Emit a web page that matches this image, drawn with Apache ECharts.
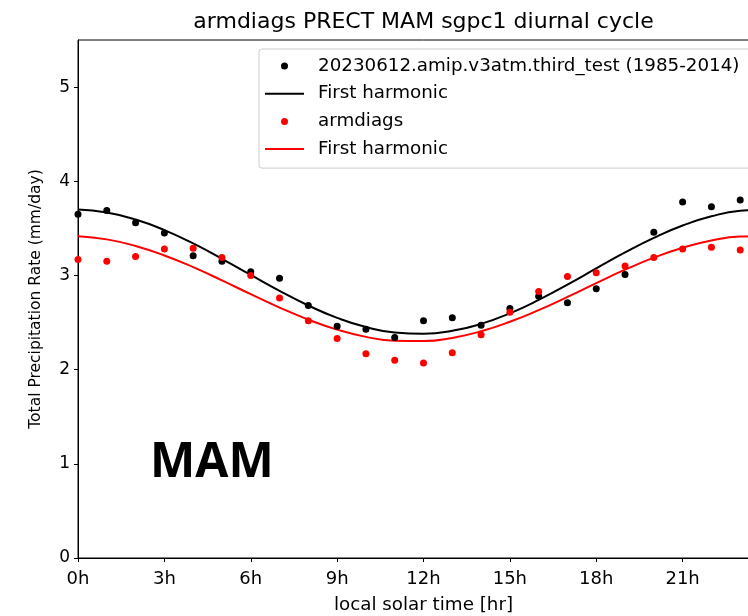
<!DOCTYPE html>
<html>
<head>
<meta charset="utf-8">
<script src="https://cdn.jsdelivr.net/npm/echarts@6/dist/echarts.min.js"></script>
<style>
html,body{margin:0;padding:0;overflow:hidden;background:#fff;}
#chart{width:847px;height:616px;}
</style>
</head>
<body>
<div id="chart"></div>
<script>
// ---- data ----
var hours = [0,1,2,3,4,5,6,7,8,9,10,11,12,13,14,15,16,17,18,19,20,21,22,23];
var curveHours = [0,1,2,3,4,5,6,7,8,9,10,11,12,13,14,15,16,17,18,19,20,21,22,23,24];
var xTickLabels = ['0h','3h','6h','9h','12h','15h','18h','21h','24h'];
var modelName = '20230612.amip.v3atm.third_test (1985-2014)';
var obsName = 'armdiags';
var modelVals = [3.65,3.69,3.56,3.45,3.21,3.15,3.04,2.97,2.68,2.46,2.43,2.34,2.52,2.55,2.47,2.65,2.78,2.71,2.86,3.01,3.46,3.78,3.73,3.80];
var obsVals = [3.17,3.15,3.20,3.28,3.29,3.19,3.00,2.76,2.52,2.33,2.17,2.10,2.07,2.18,2.37,2.61,2.83,2.99,3.03,3.10,3.19,3.28,3.30,3.27];
var modelHarmonic = [3.699,3.668,3.594,3.482,3.340,3.177,3.005,2.836,2.681,2.550,2.452,2.394,2.381,2.412,2.486,2.598,2.740,2.903,3.075,3.244,3.399,3.530,3.628,3.686,3.699];
var obsHarmonic = [3.417,3.383,3.313,3.212,3.088,2.948,2.801,2.659,2.531,2.425,2.348,2.307,2.303,2.337,2.407,2.508,2.632,2.772,2.919,3.061,3.189,3.295,3.372,3.413,3.417];
var yTicks = [0,1,2,3,4,5];

function pairs(xs, ys){ return xs.map(function(x,i){ return [x, ys[i]]; }); }

var FONT = 'DejaVu Sans';
var LINE_ICON = 'path://M0,0H39V2H0Z';
var chart = echarts.init(document.getElementById('chart'), null, {renderer:'canvas'});
chart.setOption({
  animation: false,
  backgroundColor: '#ffffff',
  title: {
    text: 'armdiags PRECT MAM sgpc1 diurnal cycle',
    left: 'center', top: 6,
    textStyle: {fontFamily: FONT, fontSize: 22, fontWeight: 'normal', color: '#000'}
  },
  grid: {left: 78, right: 78, top: 40, bottom: 58, outerBoundsMode: 'none', containLabel: false,
    show: true, borderColor: '#000', borderWidth: 1, backgroundColor: 'transparent'},
  legend: {
    orient: 'vertical', left: 259, top: 49,
    padding: [8, 12, 10, 6],
    itemGap: 9.7, itemWidth: 39, itemHeight: 7,
    backgroundColor: 'rgba(255,255,255,0.8)',
    borderColor: '#cccccc', borderWidth: 1, borderRadius: 3,
    textStyle: {fontFamily: FONT, fontSize: 18.3, color: '#000', lineHeight: 18, padding: [0,0,0,9]},
    data: [
      {name: modelName, icon: 'circle', itemStyle: {color: '#000000', borderWidth: 0}},
      {name: 'First harmonic', icon: LINE_ICON, itemStyle: {color: '#000000', borderWidth: 0}},
      {name: obsName, icon: 'circle', itemStyle: {color: '#ff0000', borderWidth: 0}},
      {name: 'First harmonic ', icon: LINE_ICON, itemStyle: {color: '#ff0000', borderWidth: 0}}
    ],
    selectedMode: false
  },
  xAxis: {
    type: 'value', min: 0, max: 24, interval: 3,
    name: 'local solar time [hr]', nameLocation: 'middle', nameGap: 38,
    nameTextStyle: {fontFamily: FONT, fontSize: 18.3, color: '#000'},
    axisLine: {show: true, lineStyle: {color: '#000', width: 1}},
    axisTick: {show: true, inside: false, length: 4, lineStyle: {color: '#000'}},
    axisLabel: {fontFamily: FONT, fontSize: 18, color: '#000', margin: 12,
      formatter: function(v){ return xTickLabels[Math.round(v/3)] || ''; }},
    splitLine: {show: false}
  },
  yAxis: {
    type: 'value', min: 0, max: 5.5, interval: 1,
    name: 'Total Precipitation Rate (mm/day)', nameLocation: 'middle', nameGap: 34,
    nameTextStyle: {fontFamily: FONT, fontSize: 15.5, color: '#000'},
    axisLine: {show: true, lineStyle: {color: '#000', width: 1}},
    axisTick: {show: true, inside: false, length: 4, lineStyle: {color: '#000'}, customValues: yTicks},
    axisLabel: {fontFamily: FONT, fontSize: 17, color: '#000', margin: 8, customValues: yTicks},
    splitLine: {show: false}
  },
  series: [
    {name: modelName, type: 'scatter', data: pairs(hours, modelVals), symbol: 'circle', symbolSize: 7,
      itemStyle: {color: '#000000', opacity: 1}, z: 3},
    {name: 'First harmonic', type: 'line', data: pairs(curveHours, modelHarmonic), smooth: true, symbol: 'none', showSymbol: false,
      lineStyle: {color: '#000000', width: 2}, itemStyle: {color: '#000000'}, z: 2},
    {name: obsName, type: 'scatter', data: pairs(hours, obsVals), symbol: 'circle', symbolSize: 7,
      itemStyle: {color: '#ff0000', opacity: 1}, z: 3},
    {name: 'First harmonic ', type: 'line', data: pairs(curveHours, obsHarmonic), smooth: true, symbol: 'none', showSymbol: false,
      lineStyle: {color: '#ff0000', width: 2}, itemStyle: {color: '#ff0000'}, z: 2}
  ],
  graphic: [
    {type: 'text', left: 150, top: 439,
      style: {text: 'MAM', fontFamily: 'Open Sans', fontWeight: 'bold', fontSize: 48, fill: '#000'}}
  ]
});
</script>
</body>
</html>
